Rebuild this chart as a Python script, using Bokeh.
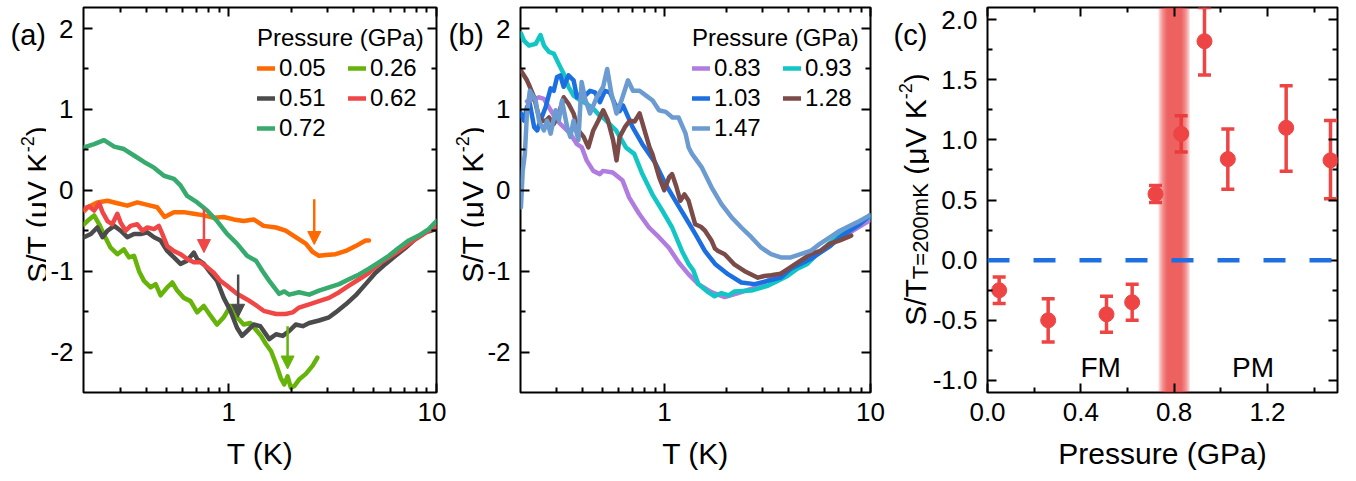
import numpy as np
from bokeh.plotting import figure
from bokeh.layouts import row
from bokeh.models import (FixedTicker, LogAxis, LinearAxis, Label, Arrow, NormalHead,
                          Span, Whisker, TeeHead, ColumnDataSource, PrintfTickFormatter)
from bokeh.core.properties import value
from bokeh.embed import file_html
from bokeh.resources import INLINE

FONT = "Liberation Sans"

# ---------------- data: panel (a) ----------------
pressures_a = ["0.05", "0.26", "0.51", "0.62", "0.72"]
T_005 = [0.203,0.209,0.233,0.261,0.291,0.325,0.363,0.406,0.453,0.491,0.545,0.608,0.679,0.759,0.847,0.946,1.057,1.180,1.318,1.472,1.690,1.880,2.100,2.350,2.530,2.720,2.930,3.270,3.660,4.080,4.560,4.730]
S_005 = [-0.25,-0.21,-0.15,-0.13,-0.16,-0.19,-0.15,-0.18,-0.21,-0.33,-0.27,-0.27,-0.29,-0.31,-0.34,-0.33,-0.36,-0.38,-0.36,-0.44,-0.46,-0.50,-0.58,-0.66,-0.76,-0.81,-0.80,-0.79,-0.75,-0.69,-0.62,-0.62]
T_026 = [0.201,0.213,0.225,0.238,0.251,0.270,0.291,0.313,0.331,0.350,0.370,0.391,0.421,0.445,0.470,0.506,0.535,0.565,0.608,0.655,0.705,0.759,0.817,0.879,0.946,1.019,1.096,1.180,1.270,1.368,1.430,1.510,1.600,1.690,1.780,1.850,1.920,1.990,2.070,2.180,2.350,2.530,2.670]
S_026 = [-0.42,-0.36,-0.31,-0.42,-0.55,-0.71,-0.79,-0.73,-0.83,-0.81,-1.00,-1.12,-1.20,-1.16,-1.30,-1.20,-1.14,-1.24,-1.33,-1.37,-1.51,-1.43,-1.55,-1.66,-1.57,-1.43,-1.57,-1.66,-1.64,-1.74,-1.80,-1.90,-1.99,-2.15,-2.32,-2.40,-2.30,-2.44,-2.42,-2.34,-2.27,-2.17,-2.07]
T_051 = [0.201,0.217,0.233,0.247,0.261,0.281,0.302,0.325,0.350,0.377,0.406,0.437,0.470,0.506,0.545,0.586,0.631,0.679,0.705,0.759,0.817,0.879,0.946,1.019,1.096,1.159,1.225,1.318,1.419,1.567,1.690,1.820,1.955,2.100,2.270,2.440,2.720,3.040,3.270,3.660,4.080,4.560,5.090,5.690,6.350,7.100,7.930,8.850,10.0]
S_051 = [-0.58,-0.54,-0.46,-0.58,-0.50,-0.44,-0.50,-0.58,-0.54,-0.54,-0.52,-0.58,-0.62,-0.75,-0.83,-0.91,-0.87,-0.77,-0.85,-0.91,-1.02,-1.12,-1.33,-1.49,-1.70,-1.80,-1.74,-1.66,-1.68,-1.84,-1.78,-1.80,-1.74,-1.66,-1.68,-1.64,-1.61,-1.57,-1.51,-1.41,-1.30,-1.16,-1.02,-0.91,-0.81,-0.71,-0.60,-0.52,-0.48]
T_062 = [0.201,0.213,0.225,0.238,0.247,0.261,0.275,0.291,0.302,0.319,0.337,0.363,0.384,0.406,0.437,0.461,0.479,0.506,0.545,0.586,0.631,0.679,0.731,0.787,0.847,0.912,0.982,1.096,1.225,1.368,1.472,1.690,1.880,2.030,2.180,2.440,2.720,3.040,3.400,3.790,4.240,4.730,5.280,5.900,6.590,7.360,8.220,9.180,10.0]
S_062 = [-0.23,-0.20,-0.25,-0.16,-0.27,-0.38,-0.42,-0.29,-0.40,-0.50,-0.44,-0.42,-0.50,-0.46,-0.48,-0.44,-0.54,-0.69,-0.75,-0.79,-0.85,-0.89,-0.89,-0.95,-1.02,-1.12,-1.18,-1.28,-1.35,-1.43,-1.49,-1.53,-1.53,-1.51,-1.45,-1.41,-1.37,-1.33,-1.26,-1.18,-1.10,-1.02,-0.91,-0.83,-0.75,-0.66,-0.58,-0.50,-0.44]
T_072 = [0.201,0.225,0.251,0.281,0.313,0.350,0.391,0.437,0.488,0.545,0.586,0.631,0.705,0.787,0.879,0.982,1.096,1.225,1.352,1.456,1.567,1.750,1.850,1.955,2.180,2.440,2.720,3.040,3.400,3.790,4.240,4.730,5.280,5.900,6.590,7.360,8.220,9.180,10.0]
S_072 = [0.53,0.57,0.62,0.54,0.51,0.43,0.35,0.28,0.18,0.14,0.06,-0.07,-0.15,-0.25,-0.38,-0.54,-0.66,-0.81,-0.87,-1.00,-1.12,-1.28,-1.25,-1.29,-1.26,-1.29,-1.24,-1.20,-1.16,-1.10,-1.04,-0.97,-0.89,-0.81,-0.71,-0.62,-0.56,-0.48,-0.38]

# arrows marking transitions in (a)
arrow_T = [2.58, 0.76, 1.11, 1.92]
arrow_from = [-0.11, -0.23, -1.04, -1.68]
arrow_to = [-0.67, -0.77, -1.57, -2.21]
arrow_series = ["0.05", "0.62", "0.51", "0.26"]

# ---------------- data: panel (b) ----------------
pressures_b = ["0.83", "0.93", "1.03", "1.28", "1.47"]
T_083 = [0.215,0.233,0.246,0.260,0.280,0.301,0.324,0.349,0.376,0.397,0.419,0.451,0.486,0.502,0.561,0.626,0.674,0.753,0.841,0.940,1.050,1.170,1.310,1.460,1.690,1.960,2.280,2.640,3.050,3.540,4.420,5.510,6.870,8.570,9.930]
S_083 = [1.10,1.13,1.15,1.13,0.99,0.86,0.78,0.70,0.57,0.53,0.37,0.24,0.20,0.24,0.22,0.12,-0.09,-0.29,-0.46,-0.58,-0.71,-0.89,-1.04,-1.16,-1.26,-1.32,-1.27,-1.22,-1.14,-1.05,-0.93,-0.79,-0.62,-0.47,-0.37]
T_093 = [0.201,0.208,0.220,0.237,0.250,0.260,0.275,0.290,0.307,0.324,0.342,0.362,0.390,0.419,0.451,0.486,0.502,0.582,0.650,0.713,0.781,0.873,0.975,1.089,1.215,1.309,1.380,1.460,1.630,1.750,1.890,2.050,2.190,2.640,3.170,3.540,3.950,4.420,4.930,5.510,6.150,6.870,7.670,8.570,9.930]
S_093 = [1.94,1.85,1.79,1.81,1.92,1.79,1.71,1.69,1.56,1.44,1.28,1.17,1.11,1.07,1.01,0.92,0.90,0.74,0.53,0.45,0.20,-0.05,-0.25,-0.46,-0.75,-0.91,-0.99,-1.16,-1.26,-1.31,-1.27,-1.30,-1.25,-1.24,-1.18,-1.12,-1.06,-0.97,-0.91,-0.79,-0.68,-0.58,-0.50,-0.42,-0.33]
T_103 = [0.201,0.208,0.215,0.222,0.233,0.241,0.250,0.265,0.280,0.290,0.301,0.312,0.324,0.342,0.362,0.376,0.390,0.412,0.435,0.460,0.486,0.514,0.543,0.574,0.606,0.629,0.700,0.781,0.906,1.010,1.130,1.260,1.410,1.570,1.760,2.040,2.360,2.740,3.170,3.670,4.100,4.580,5.110,5.700,6.370,7.100,7.940,8.860,9.900]
S_103 = [0.95,0.86,1.03,1.07,0.78,0.74,0.86,1.03,1.26,1.23,1.40,1.42,1.28,1.42,1.36,1.15,1.19,1.17,1.23,1.21,1.09,1.23,1.21,1.07,0.98,1.05,0.78,0.57,0.33,0.08,-0.13,-0.33,-0.54,-0.75,-0.91,-1.04,-1.14,-1.16,-1.12,-1.08,-0.97,-0.91,-0.85,-0.77,-0.69,-0.58,-0.50,-0.42,-0.31]
T_128 = [0.201,0.208,0.215,0.222,0.233,0.241,0.250,0.265,0.275,0.290,0.307,0.324,0.342,0.362,0.382,0.405,0.427,0.451,0.477,0.504,0.532,0.563,0.585,0.606,0.642,0.677,0.716,0.757,0.800,0.846,0.873,0.943,0.997,1.053,1.089,1.140,1.194,1.250,1.309,1.409,1.500,1.574,1.690,1.758,1.820,1.960,2.190,2.450,2.640,2.840,3.050,3.290,3.670,4.100,4.580,5.110,5.700,6.370,7.100,8.060]
S_128 = [1.48,1.42,1.36,1.28,1.15,0.99,0.86,0.86,0.90,0.82,0.95,1.15,1.07,0.95,0.74,0.66,0.53,0.74,0.86,0.99,0.86,0.62,0.37,0.66,0.78,0.86,0.85,0.95,0.74,0.53,0.45,0.16,0.00,0.16,0.20,0.05,-0.13,-0.05,-0.13,-0.42,-0.45,-0.50,-0.62,-0.72,-0.75,-0.79,-0.92,-1.00,-1.04,-1.08,-1.06,-1.05,-1.03,-0.95,-0.87,-0.79,-0.75,-0.66,-0.62,-0.56]
T_147 = [0.201,0.205,0.210,0.215,0.222,0.237,0.246,0.260,0.269,0.280,0.296,0.307,0.318,0.337,0.349,0.362,0.382,0.396,0.412,0.435,0.469,0.504,0.527,0.553,0.585,0.618,0.665,0.703,0.757,0.814,0.876,0.940,1.015,1.093,1.170,1.266,1.310,1.360,1.520,1.690,1.890,2.110,2.360,2.640,2.950,3.290,3.670,4.100,4.580,5.110,5.700,6.370,7.100,7.940,8.860,9.900]
S_147 = [-0.21,0.24,0.45,0.95,1.23,1.11,0.86,0.74,0.86,0.70,0.99,0.86,1.11,0.78,0.66,0.86,0.62,1.34,1.13,0.95,1.15,1.28,1.50,1.19,0.95,1.11,1.36,1.23,1.23,1.17,1.11,0.99,0.97,0.90,0.90,0.70,0.53,0.45,0.28,0.04,-0.17,-0.33,-0.46,-0.58,-0.71,-0.79,-0.83,-0.83,-0.79,-0.75,-0.66,-0.58,-0.50,-0.44,-0.38,-0.31]

# ---------------- data: panel (c) ----------------
pressure_c = [0.05, 0.26, 0.51, 0.62, 0.72, 0.83, 0.93, 1.03, 1.28, 1.47]
s_200mK = [-0.25, -0.50, -0.45, -0.35, 0.55, 1.05, 1.82, 0.84, 1.10, 0.83]
s_low = [-0.36, -0.68, -0.60, -0.50, 0.48, 0.90, 1.54, 0.59, 0.74, 0.51]
s_high = [-0.14, -0.32, -0.30, -0.20, 0.62, 1.20, 2.10, 1.09, 1.45, 1.16]
transition_p = 0.80
regions = ["FM", "PM"]
region_x = [0.485, 1.138]
region_y = [-0.89, -0.89]

# ticks
log_major = [1, 10]
log_minor = [0.3, 0.4, 0.5, 0.6, 0.7, 0.8, 0.9, 2, 3, 4, 5, 6, 7, 8, 9]
y_major_ab = [-2, -1, 0, 1, 2]
y_minor_ab = [-1.5, -0.5, 0.5, 1.5]
x_major_c = [0.0, 0.4, 0.8, 1.2]
x_minor_c = [0.2, 0.6, 1.0, 1.4]
y_major_c = [-1.0, -0.5, 0.0, 0.5, 1.0, 1.5, 2.0]
y_minor_c = [-0.75, -0.25, 0.25, 0.75, 1.25, 1.75]

COLORS = {"0.05": "#ff6a00", "0.26": "#66b30a", "0.51": "#4b4b4b", "0.62": "#f04646",
          "0.72": "#37aa6e", "0.83": "#b07ce0", "0.93": "#12c6c6", "1.03": "#1c6fe0",
          "1.28": "#7a4b48", "1.47": "#6b9bd0"}
SERIES = {"0.05": (T_005, S_005), "0.26": (T_026, S_026), "0.51": (T_051, S_051),
          "0.62": (T_062, S_062), "0.72": (T_072, S_072), "0.83": (T_083, S_083),
          "0.93": (T_093, S_093), "1.03": (T_103, S_103), "1.28": (T_128, S_128),
          "1.47": (T_147, S_147)}
RED = "#ee4444"

H = 478
TOP = 7
FRAME_H = 385

# Arial / Liberation Sans advance widths (em)
EMW = {'S': .667, '/': .278, 'T': .611, ' ': .278, '(': .333, 'μ': .576, 'V': .667, 'K': .667,
       '-': .333, '2': .556, ')': .333, '=': .584, '0': .556, 'm': .833}


def tw(s, size):
    return sum(EMW.get(c, .556) for c in s) * size


def label_fig(width, tag, tag_x, pieces, base_x, center_abs):
    """Narrow strip holding the rotated y-axis title (with sub/superscripts) and panel tag."""
    f = figure(width=width, height=H, x_range=(0, width), y_range=(0, H),
               x_axis_location=None, y_axis_location=None, output_backend="svg",
               toolbar_location=None, min_border=0, title=None, frame_align=False)
    f.outline_line_color = None
    f.grid.visible = False
    f.background_fill_color = "white"
    f.border_fill_color = "white"
    total = sum(tw(t, s) for t, s, _ in pieces)
    y = H - (center_abs + total / 2)
    for t, s, shift in pieces:
        txt = t.lstrip(" ")
        lead = tw(t[:len(t) - len(txt)], s)
        f.text(x=[base_x - shift], y=[y + lead], text=[txt], angle=np.pi / 2,
               text_font=value(FONT), text_font_size=value(f"{s}px"),
               text_align="left", text_baseline="alphabetic", text_color="black")
        y += tw(t, s)
    f.text(x=[tag_x], y=[H - 34], text=[tag], text_font=value(FONT),
           text_font_size=value("29px"), text_align="left", text_baseline="alphabetic",
           text_color="black")
    return f


def style_axis(ax, labels=True):
    ax.axis_line_color = None
    ax.major_tick_in = 9
    ax.major_tick_out = 0
    ax.minor_tick_in = 5
    ax.minor_tick_out = 0
    ax.major_tick_line_width = 2
    ax.minor_tick_line_width = 2
    ax.major_tick_line_color = "black"
    ax.minor_tick_line_color = "black"
    ax.major_label_text_font = FONT
    ax.major_label_text_color = "black"
    ax.axis_label_text_font = FONT
    ax.axis_label_text_font_size = "30px"
    ax.axis_label_text_font_style = "normal"
    ax.axis_label_text_color = "black"
    if labels:
        ax.major_label_text_font_size = "26px"
    else:
        ax.major_label_text_font_size = "1px"
        ax.major_label_text_alpha = 0
        ax.major_label_standoff = 0


def base_fig(width, left, right, x_type, xr, yr):
    p = figure(width=width, height=H, x_axis_type=x_type, x_range=xr, y_range=yr,
               output_backend="svg", toolbar_location=None,
               min_border_left=left, min_border_right=right, min_border_top=TOP,
               min_border_bottom=H - FRAME_H - TOP)
    p.grid.visible = False
    p.outline_line_color = "black"
    p.outline_line_width = 2
    p.outline_line_alpha = 1
    p.background_fill_color = "white"
    p.border_fill_color = "white"
    return p


def temp_panel(width, left, right, keys, legend_xy, ystand):
    p = base_fig(width, left, right, "log", (0.2, 10), (-2.5, 2.26))
    xt = FixedTicker(ticks=log_major, minor_ticks=log_minor)
    yt = FixedTicker(ticks=y_major_ab, minor_ticks=y_minor_ab)
    bx = p.xaxis[0]
    bx.ticker = xt
    bx.major_label_overrides = {1: "1", 10: "10"}
    bx.axis_label = "T (K)"
    style_axis(bx)
    bx.major_label_standoff = 10
    bx.axis_label_standoff = 13
    ly = p.yaxis[0]
    ly.ticker = yt
    ly.formatter = PrintfTickFormatter(format="%d")
    style_axis(ly)
    ly.major_label_standoff = ystand
    top = LogAxis(ticker=xt)
    style_axis(top, labels=False)
    p.add_layout(top, "above")
    rt = LinearAxis(ticker=yt)
    style_axis(rt, labels=False)
    p.add_layout(rt, "right")

    for k in keys:
        T, S = SERIES[k]
        p.line(T, S, line_color=COLORS[k], line_width=4.5, line_cap="round",
               line_join="round", legend_label=k)

    leg = p.legend[0]
    leg.title = "Pressure (GPa)"
    leg.title_text_font = FONT
    leg.title_text_font_size = "24px"
    leg.title_text_font_style = "normal"
    leg.title_text_color = "black"
    leg.title_standoff = 2
    leg.label_text_font = FONT
    leg.label_text_font_size = "24px"
    leg.label_text_color = "black"
    leg.orientation = "horizontal"
    leg.ncols = 2
    leg.glyph_width = 18
    leg.glyph_height = 20
    leg.label_standoff = 4
    leg.label_width = 67
    leg.label_height = 20
    leg.spacing = 2
    leg.padding = 0
    leg.margin = 0
    leg.border_line_color = None
    leg.background_fill_alpha = 0
    leg.location = legend_xy
    return p


YLAB = [("S/T (μV K", 30, 0), ("-2", 18, 10), (")", 30, 0)]
YLAB_C = [("S/T", 30, 0), ("T=200mK", 22, -5), (" (μV K", 30, 0), ("-2", 18, 10), (")", 30, 0)]

lab_a = label_fig(46, "(a)", 10, YLAB, 37, 204)
p1 = temp_panel(400, 37, 10, pressures_a, (174, 250), 10)
for T0, y0, y1, k in zip(arrow_T, arrow_from, arrow_to, arrow_series):
    c = COLORS[k]
    p1.add_layout(Arrow(end=NormalHead(size=13, fill_color=c, line_color=c, line_width=1),
                        x_start=T0, y_start=y0, x_end=T0, y_end=y1,
                        line_color=c, line_width=2.5))

lab_b = label_fig(38, "(b)", 2, YLAB, 26, 204)
p2 = temp_panel(406, 34, 20, pressures_b, (172, 250), 10)

# ---------------- panel (c) ----------------
lab_c = label_fig(39, "(c)", 3, YLAB_C, 25, 199)
p3 = base_fig(425, 56, 17, "linear", (0, 1.5), (-1.1, 2.1))
xt3 = FixedTicker(ticks=x_major_c, minor_ticks=x_minor_c)
yt3 = FixedTicker(ticks=y_major_c, minor_ticks=y_minor_c)
bx3 = p3.xaxis[0]
bx3.ticker = xt3
bx3.formatter = PrintfTickFormatter(format="%.1f")
bx3.axis_label = "Pressure (GPa)"
style_axis(bx3)
bx3.major_label_standoff = 10
bx3.axis_label_standoff = 13
ly3 = p3.yaxis[0]
ly3.ticker = yt3
ly3.formatter = PrintfTickFormatter(format="%.1f")
style_axis(ly3)
ly3.major_label_standoff = 10
top3 = LinearAxis(ticker=xt3)
style_axis(top3, labels=False)
p3.add_layout(top3, "above")
rt3 = LinearAxis(ticker=yt3)
style_axis(rt3, labels=False)
p3.add_layout(rt3, "right")

# blurred transition band (layered translucent strips)
for hw in np.linspace(0.068, 0.03, 10):
    p3.quad(left=transition_p - hw, right=transition_p + hw, bottom=-1.1, top=2.1,
            fill_color="#e83a3a", fill_alpha=0.15, line_color=None)

p3.add_layout(Span(location=0, dimension="width", line_color="#1f6fe0", line_width=4.5,
                   line_dash="22 24"))

src = ColumnDataSource(dict(p=pressure_c, s=s_200mK, lo=s_low, hi=s_high))
p3.add_layout(Whisker(source=src, base="p", lower="lo", upper="hi", dimension="height",
                      line_color=RED, line_width=3.5,
                      lower_head=TeeHead(size=13, line_color=RED, line_width=3.5),
                      upper_head=TeeHead(size=13, line_color=RED, line_width=3.5)))
p3.scatter("p", "s", source=src, size=15, fill_color=RED, line_color=RED)

for txt, x, y in zip(regions, region_x, region_y):
    p3.add_layout(Label(x=x, y=y, text=txt, text_font=FONT, text_font_size="28px",
                        text_align="center", text_baseline="alphabetic", text_color="black"))

layout = row(lab_a, p1, lab_b, p2, lab_c, p3)
open("out.html", "w").write(file_html(layout, INLINE))
